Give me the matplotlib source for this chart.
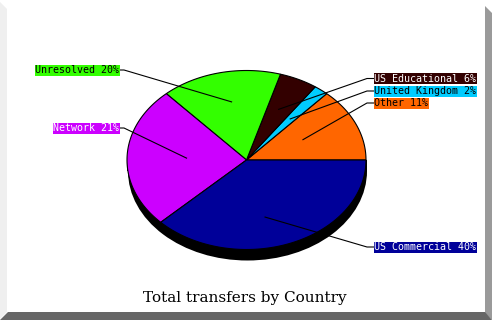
import numpy as np
import matplotlib
matplotlib.use('Agg')
import matplotlib.pyplot as plt
from matplotlib.patches import Polygon, Rectangle, Ellipse

# data, counter-clockwise from 3 o'clock
categories = ['Other', 'United Kingdom', 'US Educational', 'Unresolved', 'Network', 'US Commercial']
values = [11, 2, 6, 20, 21, 40]
colors = ['#ff6600', '#00ccff', '#330000', '#33ff00', '#cc00ff', '#000099']
text_colors = ['black', 'black', 'white', 'black', 'white', 'white']
title = 'Total transfers by Country'

# layout (pixels)
W, H = 492, 320
cx, cy = 246.5, 160.0
rx, ry = 119.5, 89.5
depth = 11
label_y = [103, 91, 78.5, 70, 128, 247]
left_x, right_x = 119, 374

fig = plt.figure(figsize=(W / 100, H / 100), dpi=100)
ax = fig.add_axes([0, 0, 1, 1])
ax.set_xlim(0, W)
ax.set_ylim(H, 0)
ax.axis('off')

# frame with shadow
ax.add_patch(Rectangle((0, 0), W, H, fc='white', ec='none'))
ax.add_patch(Polygon([(0, 2), (7, 9), (7, 312), (0, 319)], closed=True, fc='#efefef', ec='none'))
ax.add_patch(Polygon([(485, 6), (492, 13), (492, 320), (485, 313)], closed=True, fc='#9a9a9a', ec='none'))
ax.add_patch(Polygon([(0, 320), (8, 312), (485, 312), (492, 320)], closed=True, fc='#666666', ec='none'))


def ell_pt(theta, scale=1.0):
    r = rx * ry / np.sqrt((ry * np.cos(theta)) ** 2 + (rx * np.sin(theta)) ** 2)
    return cx + scale * r * np.cos(theta), cy - scale * r * np.sin(theta)


# pie side (3d thickness)
ax.add_patch(Ellipse((cx + 1, cy + depth), 2 * rx, 2 * ry, fc='black', ec='none'))
ax.add_patch(Rectangle((cx - rx, cy), 2 * rx + 1, depth, fc='black', ec='none'))

total = float(sum(values))
start = 0.0
mids = []
for val, col in zip(values, colors):
    a1 = start
    a2 = start + val / total * 2 * np.pi
    th = np.linspace(a1, a2, 100)
    xs, ys = ell_pt(th)
    pts = [(cx, cy)] + list(zip(xs, ys))
    ax.add_patch(Polygon(pts, closed=True, fc=col, ec='black', lw=0.8))
    mids.append((a1 + a2) / 2)
    start = a2

# labels with leader lines
for name, val, col, tcol, mid, ly in zip(categories, values, colors, text_colors, mids, label_y):
    px = cx + 60 * np.cos(mid)
    py = cy - 60 * np.sin(mid)
    txt = '%s %d%%' % (name, val)
    if np.cos(mid) < 0:
        ax.plot([px, left_x + 5, left_x], [py, ly, ly], color='black', lw=0.8)
        ax.text(left_x, ly, txt, ha='right', va='center', color=tcol,
                family='DejaVu Sans Mono', fontsize=7.2,
                bbox=dict(boxstyle='square,pad=0.05', fc=col, ec='none'))
    else:
        ax.plot([px, right_x - 7, right_x], [py, ly, ly], color='black', lw=0.8)
        ax.text(right_x, ly, txt, ha='left', va='center', color=tcol,
                family='DejaVu Sans Mono', fontsize=7.2,
                bbox=dict(boxstyle='square,pad=0.05', fc=col, ec='none'))

ax.text(245, 298, title, ha='center', va='center', family='DejaVu Serif', fontsize=11, color='black')

fig.savefig('out.png', dpi=100)
